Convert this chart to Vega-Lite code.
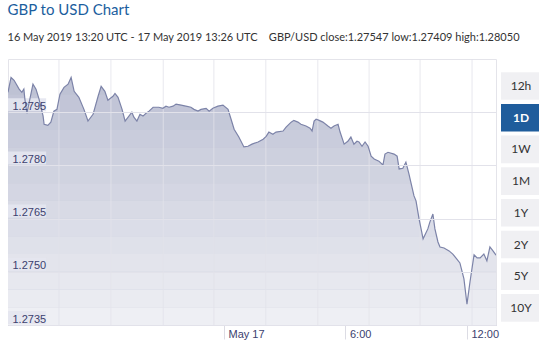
{
  "$schema": "https://vega.github.io/schema/vega-lite/v6.json",
  "padding": {"left": 7, "top": 3, "right": 0, "bottom": 0},
  "background": "white",
  "title": {
    "text": "GBP to USD Chart",
    "subtitle": "16 May 2019 13:20 UTC - 17 May 2019 13:26 UTC\u00a0\u00a0\u00a0 GBP/USD close:1.27547 low:1.27409 high:1.28050",
    "anchor": "start",
    "frame": "bounds",
    "font": "Lato",
    "fontSize": 15,
    "fontWeight": "normal",
    "color": "#1b5e9e",
    "subtitleFont": "Lato",
    "subtitleFontSize": 11,
    "subtitleColor": "#333333",
    "subtitlePadding": 14,
    "offset": 15
  },
  "config": {"view": {"stroke": "#e4e4ea"}, "concat": {"spacing": 1}},
  "datasets": {
    "rates": [
      {"t": "2019-05-16T13:20:00Z", "v": 1.28006}, {"t": "2019-05-16T13:29:00Z", "v": 1.28048},
      {"t": "2019-05-16T13:38:00Z", "v": 1.28040}, {"t": "2019-05-16T13:53:00Z", "v": 1.28015},
      {"t": "2019-05-16T14:01:00Z", "v": 1.28006}, {"t": "2019-05-16T14:07:00Z", "v": 1.28015},
      {"t": "2019-05-16T14:10:00Z", "v": 1.27987}, {"t": "2019-05-16T14:16:00Z", "v": 1.27947},
      {"t": "2019-05-16T14:34:00Z", "v": 1.28029}, {"t": "2019-05-16T14:43:00Z", "v": 1.28015},
      {"t": "2019-05-16T14:52:00Z", "v": 1.27987}, {"t": "2019-05-16T15:04:00Z", "v": 1.27939},
      {"t": "2019-05-16T15:07:00Z", "v": 1.27916}, {"t": "2019-05-16T15:18:00Z", "v": 1.27913},
      {"t": "2019-05-16T15:27:00Z", "v": 1.27922}, {"t": "2019-05-16T15:36:00Z", "v": 1.27953},
      {"t": "2019-05-16T15:45:00Z", "v": 1.27958}, {"t": "2019-05-16T15:54:00Z", "v": 1.28001},
      {"t": "2019-05-16T16:06:00Z", "v": 1.28020}, {"t": "2019-05-16T16:18:00Z", "v": 1.28029},
      {"t": "2019-05-16T16:27:00Z", "v": 1.28048}, {"t": "2019-05-16T16:36:00Z", "v": 1.28009},
      {"t": "2019-05-16T16:50:00Z", "v": 1.27992}, {"t": "2019-05-16T17:05:00Z", "v": 1.27958},
      {"t": "2019-05-16T17:17:00Z", "v": 1.27925}, {"t": "2019-05-16T17:32:00Z", "v": 1.27944},
      {"t": "2019-05-16T17:47:00Z", "v": 1.27995}, {"t": "2019-05-16T17:56:00Z", "v": 1.28023},
      {"t": "2019-05-16T18:07:00Z", "v": 1.28009}, {"t": "2019-05-16T18:16:00Z", "v": 1.27984},
      {"t": "2019-05-16T18:31:00Z", "v": 1.27995}, {"t": "2019-05-16T18:37:00Z", "v": 1.28003},
      {"t": "2019-05-16T18:46:00Z", "v": 1.27992}, {"t": "2019-05-16T18:58:00Z", "v": 1.27958},
      {"t": "2019-05-16T19:07:00Z", "v": 1.27925}, {"t": "2019-05-16T19:16:00Z", "v": 1.27936},
      {"t": "2019-05-16T19:27:00Z", "v": 1.27950}, {"t": "2019-05-16T19:33:00Z", "v": 1.27936},
      {"t": "2019-05-16T19:42:00Z", "v": 1.27925}, {"t": "2019-05-16T19:51:00Z", "v": 1.27944},
      {"t": "2019-05-16T20:00:00Z", "v": 1.27939}, {"t": "2019-05-16T20:09:00Z", "v": 1.27947},
      {"t": "2019-05-16T20:18:00Z", "v": 1.27953}, {"t": "2019-05-16T20:30:00Z", "v": 1.27964},
      {"t": "2019-05-16T20:47:00Z", "v": 1.27964}, {"t": "2019-05-16T20:59:00Z", "v": 1.27961},
      {"t": "2019-05-16T21:08:00Z", "v": 1.27967}, {"t": "2019-05-16T21:17:00Z", "v": 1.27964},
      {"t": "2019-05-16T21:29:00Z", "v": 1.27967}, {"t": "2019-05-16T21:38:00Z", "v": 1.27973},
      {"t": "2019-05-16T21:53:00Z", "v": 1.27970}, {"t": "2019-05-16T22:07:00Z", "v": 1.27967},
      {"t": "2019-05-16T22:22:00Z", "v": 1.27964}, {"t": "2019-05-16T22:31:00Z", "v": 1.27958},
      {"t": "2019-05-16T22:43:00Z", "v": 1.27953}, {"t": "2019-05-16T22:52:00Z", "v": 1.27958},
      {"t": "2019-05-16T23:07:00Z", "v": 1.27961}, {"t": "2019-05-16T23:16:00Z", "v": 1.27953},
      {"t": "2019-05-16T23:27:00Z", "v": 1.27961}, {"t": "2019-05-16T23:42:00Z", "v": 1.27967},
      {"t": "2019-05-16T23:57:00Z", "v": 1.27970}, {"t": "2019-05-17T00:12:00Z", "v": 1.27958},
      {"t": "2019-05-17T00:21:00Z", "v": 1.27930}, {"t": "2019-05-17T00:30:00Z", "v": 1.27902},
      {"t": "2019-05-17T00:44:00Z", "v": 1.27880}, {"t": "2019-05-17T00:59:00Z", "v": 1.27852},
      {"t": "2019-05-17T01:11:00Z", "v": 1.27854}, {"t": "2019-05-17T01:23:00Z", "v": 1.27860},
      {"t": "2019-05-17T01:41:00Z", "v": 1.27866}, {"t": "2019-05-17T01:56:00Z", "v": 1.27874},
      {"t": "2019-05-17T02:05:00Z", "v": 1.27882}, {"t": "2019-05-17T02:13:00Z", "v": 1.27894},
      {"t": "2019-05-17T02:25:00Z", "v": 1.27888}, {"t": "2019-05-17T02:34:00Z", "v": 1.27894},
      {"t": "2019-05-17T02:55:00Z", "v": 1.27897}, {"t": "2019-05-17T03:04:00Z", "v": 1.27908},
      {"t": "2019-05-17T03:19:00Z", "v": 1.27922}, {"t": "2019-05-17T03:27:00Z", "v": 1.27927},
      {"t": "2019-05-17T03:39:00Z", "v": 1.27922}, {"t": "2019-05-17T03:48:00Z", "v": 1.27916},
      {"t": "2019-05-17T04:03:00Z", "v": 1.27911}, {"t": "2019-05-17T04:15:00Z", "v": 1.27905},
      {"t": "2019-05-17T04:21:00Z", "v": 1.27897}, {"t": "2019-05-17T04:27:00Z", "v": 1.27925},
      {"t": "2019-05-17T04:33:00Z", "v": 1.27930}, {"t": "2019-05-17T04:42:00Z", "v": 1.27927},
      {"t": "2019-05-17T04:53:00Z", "v": 1.27922}, {"t": "2019-05-17T05:08:00Z", "v": 1.27911},
      {"t": "2019-05-17T05:17:00Z", "v": 1.27905}, {"t": "2019-05-17T05:26:00Z", "v": 1.27911},
      {"t": "2019-05-17T05:38:00Z", "v": 1.27916}, {"t": "2019-05-17T05:44:00Z", "v": 1.27894},
      {"t": "2019-05-17T05:56:00Z", "v": 1.27860}, {"t": "2019-05-17T06:07:00Z", "v": 1.27868},
      {"t": "2019-05-17T06:16:00Z", "v": 1.27880}, {"t": "2019-05-17T06:25:00Z", "v": 1.27860},
      {"t": "2019-05-17T06:34:00Z", "v": 1.27868}, {"t": "2019-05-17T06:40:00Z", "v": 1.27866},
      {"t": "2019-05-17T06:49:00Z", "v": 1.27854}, {"t": "2019-05-17T06:58:00Z", "v": 1.27866},
      {"t": "2019-05-17T07:07:00Z", "v": 1.27854}, {"t": "2019-05-17T07:16:00Z", "v": 1.27826},
      {"t": "2019-05-17T07:25:00Z", "v": 1.27818}, {"t": "2019-05-17T07:39:00Z", "v": 1.27812},
      {"t": "2019-05-17T07:51:00Z", "v": 1.27801}, {"t": "2019-05-17T07:57:00Z", "v": 1.27832},
      {"t": "2019-05-17T08:06:00Z", "v": 1.27837}, {"t": "2019-05-17T08:24:00Z", "v": 1.27832},
      {"t": "2019-05-17T08:33:00Z", "v": 1.27826}, {"t": "2019-05-17T08:39:00Z", "v": 1.27790},
      {"t": "2019-05-17T08:50:00Z", "v": 1.27792}, {"t": "2019-05-17T08:59:00Z", "v": 1.27809},
      {"t": "2019-05-17T09:08:00Z", "v": 1.27776}, {"t": "2019-05-17T09:17:00Z", "v": 1.27739},
      {"t": "2019-05-17T09:23:00Z", "v": 1.27714}, {"t": "2019-05-17T09:29:00Z", "v": 1.27700},
      {"t": "2019-05-17T09:38:00Z", "v": 1.27649}, {"t": "2019-05-17T09:50:00Z", "v": 1.27593},
      {"t": "2019-05-17T10:04:00Z", "v": 1.27621}, {"t": "2019-05-17T10:10:00Z", "v": 1.27640},
      {"t": "2019-05-17T10:19:00Z", "v": 1.27663}, {"t": "2019-05-17T10:25:00Z", "v": 1.27621},
      {"t": "2019-05-17T10:34:00Z", "v": 1.27584}, {"t": "2019-05-17T10:40:00Z", "v": 1.27570},
      {"t": "2019-05-17T10:52:00Z", "v": 1.27567}, {"t": "2019-05-17T11:07:00Z", "v": 1.27559},
      {"t": "2019-05-17T11:18:00Z", "v": 1.27550}, {"t": "2019-05-17T11:30:00Z", "v": 1.27536},
      {"t": "2019-05-17T11:39:00Z", "v": 1.27525}, {"t": "2019-05-17T11:51:00Z", "v": 1.27480},
      {"t": "2019-05-17T12:00:00Z", "v": 1.27409}, {"t": "2019-05-17T12:09:00Z", "v": 1.27472},
      {"t": "2019-05-17T12:21:00Z", "v": 1.27548}, {"t": "2019-05-17T12:30:00Z", "v": 1.27539},
      {"t": "2019-05-17T12:39:00Z", "v": 1.27539}, {"t": "2019-05-17T12:50:00Z", "v": 1.27550},
      {"t": "2019-05-17T12:59:00Z", "v": 1.27531}, {"t": "2019-05-17T13:08:00Z", "v": 1.27570},
      {"t": "2019-05-17T13:17:00Z", "v": 1.27559}, {"t": "2019-05-17T13:26:00Z", "v": 1.27547}
    ],
    "grid": [
      {"t": "2019-05-16T15:51:00Z"}, {"t": "2019-05-16T18:25:00Z"}, {"t": "2019-05-16T21:00:00Z"},
      {"t": "2019-05-16T23:30:00Z"}, {"t": "2019-05-17T02:04:00Z"}, {"t": "2019-05-17T04:38:00Z"},
      {"t": "2019-05-17T07:10:00Z"}, {"t": "2019-05-17T09:41:00Z"}, {"t": "2019-05-17T12:15:00Z"}
    ],
    "ticks": [{"v": 1.2735}, {"v": 1.275}, {"v": 1.2765}, {"v": 1.278}, {"v": 1.2795}],
    "one": [{}],
    "buttons": [
      {"label": "12h"}, {"label": "1D"}, {"label": "1W"}, {"label": "1M"},
      {"label": "1Y"}, {"label": "2Y"}, {"label": "5Y"}, {"label": "10Y"}
    ]
  },
  "hconcat": [
    {
      "width": 488,
      "height": 266,
      "layer": [
        {
          "data": {"name": "rates"},
          "mark": {"type": "area", "clip": true, "color": "#b9bdd1"},
          "encoding": {
            "x": {
              "field": "t", "type": "temporal",
              "scale": {"type": "utc", "domain": [
                {"year": 2019, "month": 5, "date": 16, "hours": 13, "minutes": 20, "utc": true},
                {"year": 2019, "month": 5, "date": 17, "hours": 13, "minutes": 26, "utc": true}
              ]},
              "axis": {
                "title": null,
                "grid": false,
                "values": [
                  {"year": 2019, "month": 5, "date": 17, "hours": 0, "utc": true},
                  {"year": 2019, "month": 5, "date": 17, "hours": 6, "utc": true},
                  {"year": 2019, "month": 5, "date": 17, "hours": 12, "utc": true}
                ],
                "labelExpr": "utcFormat(datum.value, '%H') == '00' ? 'May 17' : utcFormat(datum.value, '%-H:%M')",
                "domainColor": "#c6c8da",
                "tickColor": "#dcdce4",
                "tickSize": 14,
                "labelAlign": "left",
                "labelBaseline": "top",
                "labelPadding": -11,
                "labelOffset": 4,
                "labelFont": "Liberation Sans",
                "labelFontSize": 11,
                "labelColor": "#3b416e",
                "labelFlush": false,
                "labelOverlap": false
              }
            },
            "y": {
              "field": "v", "type": "quantitative",
              "scale": {"domain": [1.2735, 1.281], "zero": false, "nice": false},
              "axis": {
                "title": null,
                "values": [1.2735, 1.275, 1.2765, 1.278, 1.2795],
                "format": ".4f",
                "grid": true,
                "gridColor": "#e2e2ea",
                "ticks": false,
                "domain": false,
                "zindex": 1,
                "labelAlign": "left",
                "labelBaseline": "alphabetic",
                "labelPadding": -4,
                "labelOffset": -3,
                "labelFont": "Liberation Sans",
                "labelFontSize": 11,
                "labelColor": "#3b416e"
              }
            }
          }
        },
        {"data": {"name": "one"}, "mark": {"type": "rect", "color": "white", "opacity": 0.026}, "encoding": {"y": {"datum": 1.281}, "y2": {"datum": 1.2805}}},
        {"data": {"name": "one"}, "mark": {"type": "rect", "color": "white", "opacity": 0.078}, "encoding": {"y": {"datum": 1.2805}, "y2": {"datum": 1.28}}},
        {"data": {"name": "one"}, "mark": {"type": "rect", "color": "white", "opacity": 0.13}, "encoding": {"y": {"datum": 1.28}, "y2": {"datum": 1.2795}}},
        {"data": {"name": "one"}, "mark": {"type": "rect", "color": "white", "opacity": 0.182}, "encoding": {"y": {"datum": 1.2795}, "y2": {"datum": 1.279}}},
        {"data": {"name": "one"}, "mark": {"type": "rect", "color": "white", "opacity": 0.234}, "encoding": {"y": {"datum": 1.279}, "y2": {"datum": 1.2785}}},
        {"data": {"name": "one"}, "mark": {"type": "rect", "color": "white", "opacity": 0.286}, "encoding": {"y": {"datum": 1.2785}, "y2": {"datum": 1.278}}},
        {"data": {"name": "one"}, "mark": {"type": "rect", "color": "white", "opacity": 0.338}, "encoding": {"y": {"datum": 1.278}, "y2": {"datum": 1.2775}}},
        {"data": {"name": "one"}, "mark": {"type": "rect", "color": "white", "opacity": 0.39}, "encoding": {"y": {"datum": 1.2775}, "y2": {"datum": 1.277}}},
        {"data": {"name": "one"}, "mark": {"type": "rect", "color": "white", "opacity": 0.442}, "encoding": {"y": {"datum": 1.277}, "y2": {"datum": 1.2765}}},
        {"data": {"name": "one"}, "mark": {"type": "rect", "color": "white", "opacity": 0.494}, "encoding": {"y": {"datum": 1.2765}, "y2": {"datum": 1.276}}},
        {"data": {"name": "one"}, "mark": {"type": "rect", "color": "white", "opacity": 0.546}, "encoding": {"y": {"datum": 1.276}, "y2": {"datum": 1.2755}}},
        {"data": {"name": "one"}, "mark": {"type": "rect", "color": "white", "opacity": 0.598}, "encoding": {"y": {"datum": 1.2755}, "y2": {"datum": 1.275}}},
        {"data": {"name": "one"}, "mark": {"type": "rect", "color": "white", "opacity": 0.65}, "encoding": {"y": {"datum": 1.275}, "y2": {"datum": 1.2745}}},
        {"data": {"name": "one"}, "mark": {"type": "rect", "color": "white", "opacity": 0.702}, "encoding": {"y": {"datum": 1.2745}, "y2": {"datum": 1.274}}},
        {"data": {"name": "one"}, "mark": {"type": "rect", "color": "white", "opacity": 0.754}, "encoding": {"y": {"datum": 1.274}, "y2": {"datum": 1.2735}}},
        {
          "data": {"name": "grid"},
          "mark": {"type": "rule", "color": "#e2e2ea", "strokeWidth": 1, "opacity": 0.8},
          "encoding": {"x": {"field": "t", "type": "temporal"}}
        },
        {
          "data": {"name": "ticks"},
          "mark": {"type": "rect", "color": "#e4e5ef", "opacity": 0.9, "height": 13, "yOffset": -7.5},
          "encoding": {
            "y": {"field": "v", "type": "quantitative"},
            "x": {"datum": {"year": 2019, "month": 5, "date": 16, "hours": 13, "minutes": 20, "utc": true}, "type": "temporal"},
            "x2": {"datum": {"year": 2019, "month": 5, "date": 16, "hours": 15, "minutes": 13, "utc": true}}
          }
        },
        {
          "data": {"name": "rates"},
          "mark": {"type": "line", "color": "#7c83a8", "strokeWidth": 1.2, "clip": true},
          "encoding": {
            "x": {"field": "t", "type": "temporal"},
            "y": {"field": "v", "type": "quantitative"}
          }
        }
      ]
    },
    {
      "width": 40,
      "height": 266,
      "view": {"stroke": null},
      "data": {"name": "buttons"},
      "encoding": {
        "y": {
          "field": "label", "type": "nominal", "sort": null,
          "scale": {"paddingInner": 0.13, "paddingOuter": 0.26, "align": 0.8},
          "axis": null
        }
      },
      "layer": [
        {
          "mark": {"type": "rect"},
          "encoding": {
            "color": {
              "condition": {"test": "datum.label == '1D'", "value": "#1f5d9c"},
              "value": "#f0f0f3"
            }
          }
        },
        {
          "transform": [{"filter": "datum.label != '1D'"}],
          "mark": {"type": "text", "font": "Lato", "fontSize": 12, "color": "#333333", "align": "center", "baseline": "middle"},
          "encoding": {"text": {"field": "label"}}
        },
        {
          "transform": [{"filter": "datum.label == '1D'"}],
          "mark": {"type": "text", "font": "Lato", "fontSize": 12, "fontWeight": "bold", "color": "white", "align": "center", "baseline": "middle"},
          "encoding": {"text": {"field": "label"}}
        }
      ]
    }
  ]
}
